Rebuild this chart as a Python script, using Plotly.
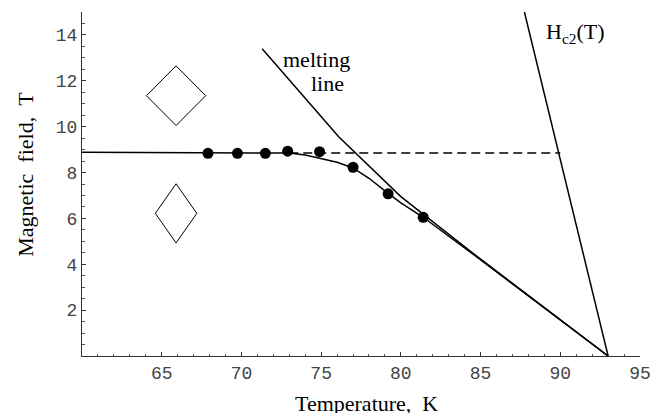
import plotly.graph_objects as go

# measured points (Temperature K, Field T)
T_points = [67.9, 69.75, 71.5, 72.9, 74.9, 77.0, 79.2, 81.4]
H_points = [8.84, 8.84, 8.84, 8.93, 8.91, 8.23, 7.07, 6.05]

# solid fit curve through the points
T_fit = [60, 72, 73, 74, 75, 76, 77, 78, 79, 80, 81.4, 84.8, 93]
H_fit = [8.88, 8.88, 8.85, 8.76, 8.62, 8.45, 8.2, 7.75, 7.2, 6.68, 6.05, 4.3, 0]

# melting line
T_melt = [71.3, 76.1, 80.0, 84.8, 93.0]
H_melt = [13.4, 9.56, 6.95, 4.33, 0.0]

# upper critical field
T_hc2 = [87.75, 93.0]
H_hc2 = [15.0, 0.0]

# dashed horizontal line
T_dash = [73.0, 90.0]
H_dash = [8.85, 8.85]

# diamond symbols: centre T, centre H, half-width (K), half-height (T)
diamond_T = [65.9, 65.9]
diamond_H = [11.35, 6.22]
diamond_dT = [1.86, 1.30]
diamond_dH = [1.30, 1.29]

x_ticks = [65, 70, 75, 80, 85, 90, 95]
y_ticks = [2, 4, 6, 8, 10, 12, 14]

fig = go.Figure()

for cT, cH, dT, dH in zip(diamond_T, diamond_H, diamond_dT, diamond_dH):
    fig.add_trace(go.Scatter(
        x=[cT, cT + dT, cT, cT - dT, cT],
        y=[cH + dH, cH, cH - dH, cH, cH + dH],
        mode="lines", line=dict(color="black", width=1),
        hoverinfo="skip", showlegend=False))

fig.add_trace(go.Scatter(x=T_dash, y=H_dash, mode="lines",
                         line=dict(color="black", width=1.4, dash="9px,5px"),
                         showlegend=False))
fig.add_trace(go.Scatter(x=T_fit, y=H_fit, mode="lines",
                         line=dict(color="black", width=1.5), showlegend=False))
fig.add_trace(go.Scatter(x=T_melt, y=H_melt, mode="lines",
                         line=dict(color="black", width=1.5), showlegend=False))
fig.add_trace(go.Scatter(x=T_hc2, y=H_hc2, mode="lines",
                         line=dict(color="black", width=1.5), showlegend=False))
fig.add_trace(go.Scatter(x=T_points, y=H_points, mode="markers",
                         marker=dict(color="black", size=11), showlegend=False))

tickfont = dict(family="Liberation Mono", size=18, color="#444")
serif = "Liberation Serif"
NB = "\u00a0"

fig.update_layout(
    width=653, height=405,
    margin=dict(l=74, r=21, t=4, b=57),
    paper_bgcolor="white", plot_bgcolor="white",
    xaxis=dict(range=[60, 95], tickvals=x_ticks, ticktext=[str(v) for v in x_ticks],
               ticks="inside", ticklen=4, tickwidth=1, tickcolor="#333",
               showline=True, linecolor="#333", linewidth=1,
               showgrid=False, zeroline=False, tickfont=tickfont,
               minor=dict(dtick=1, tick0=60, ticks="inside", ticklen=2.5, tickcolor="#555",
                          showgrid=False)),
    yaxis=dict(range=[0, 15], tickvals=y_ticks, ticktext=[str(v) for v in y_ticks],
               ticks="inside", ticklen=4, tickwidth=1, tickcolor="#333",
               showline=True, linecolor="#333", linewidth=1,
               showgrid=False, zeroline=False, tickfont=tickfont,
               minor=dict(dtick=0.5, tick0=0, ticks="inside", ticklen=2.5, tickcolor="#555",
                          showgrid=False)),
    annotations=[
        dict(text="melting", x=74.73, y=12.91, xref="x", yref="y", showarrow=False,
             font=dict(family=serif, size=22, color="black")),
        dict(text="line", x=75.41, y=11.89, xref="x", yref="y", showarrow=False,
             font=dict(family=serif, size=22, color="black")),
        dict(text="H<sub>c2</sub>(T)", x=90.98, y=14.1, xref="x", yref="y", showarrow=False,
             font=dict(family=serif, size=22, color="black")),
        dict(text="Temperature," + NB + NB + "K", x=0.5096, y=-0.138, xref="paper", yref="paper",
             showarrow=False, xanchor="center", yanchor="middle",
             font=dict(family=serif, size=22, color="black")),
        dict(text="Magnetic" + NB + NB + "field," + NB + NB + "T", x=-0.1027, y=0.529,
             xref="paper", yref="paper",
             showarrow=False, textangle=-90, xanchor="center", yanchor="middle",
             font=dict(family=serif, size=22, color="black")),
    ],
)

fig.write_html("out.html")
